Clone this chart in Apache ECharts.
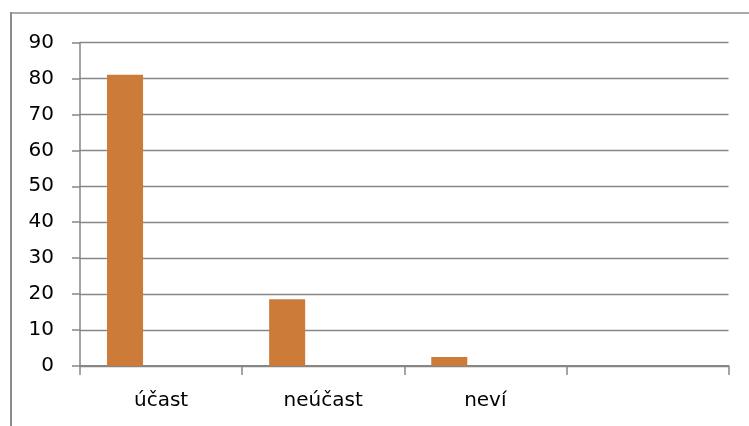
<!DOCTYPE html>
<html>
<head>
<meta charset="utf-8">
<script src="https://cdn.jsdelivr.net/npm/echarts@6/dist/echarts.min.js"></script>
<style>
  html, body { margin: 0; padding: 0; background: #fff; }
  #chart { width: 749px; height: 426px; }
</style>
</head>
<body>
<div id="chart"></div>
<script>
// Categories on the x axis (the last slot is left blank)
const categories = ['účast', 'neúčast', 'neví', ''];
// First series carries the answers; the other two series are empty
const seriesA = [81, 18.6, 2.5, null];
const seriesB = [null, null, null, null];
const seriesC = [null, null, null, null];
const yTicks = { min: 0, max: 90, interval: 10 };

const gridColor = '#868686';
const barColor = '#CD7B38';
const font = 'DejaVu Sans';

const chart = echarts.init(document.getElementById('chart'), null, { renderer: 'canvas' });

chart.setOption({
  animation: false,
  backgroundColor: '#ffffff',
  graphic: [
    {
      type: 'line',
      shape: { x1: 11, y1: 12, x2: 11, y2: 430 },
      style: { stroke: '#8c8c8c', lineWidth: 2 },
      z: 0
    },
    {
      type: 'line',
      shape: { x1: 10, y1: 13, x2: 749, y2: 13 },
      style: { stroke: '#8c8c8c', lineWidth: 1.5 },
      z: 0
    }
  ],
  grid: { left: 80, right: 20.5, top: 42.5, bottom: 60, containLabel: false },
  xAxis: {
    type: 'category',
    data: categories,
    boundaryGap: true,
    axisLine: { show: true, lineStyle: { color: gridColor, width: 2 } },
    axisTick: { show: true, length: 9, alignWithLabel: false, lineStyle: { color: gridColor, width: 1.5 } },
    axisLabel: { color: '#000', fontFamily: font, fontSize: 20, margin: 25 },
    splitLine: { show: false }
  },
  yAxis: {
    type: 'value',
    min: yTicks.min,
    max: yTicks.max,
    interval: yTicks.interval,
    axisLine: { show: true, lineStyle: { color: gridColor, width: 1.5 } },
    axisTick: { show: true, length: 8, inside: false, lineStyle: { color: gridColor, width: 1.5 } },
    axisLabel: { color: '#000', fontFamily: font, fontSize: 20, margin: 26 },
    splitLine: { show: true, lineStyle: { color: gridColor, width: 1.3 } }
  },
  series: [
    { type: 'bar', data: seriesA, itemStyle: { color: barColor }, barGap: '0%', barCategoryGap: '33.33%' },
    { type: 'bar', data: seriesB, itemStyle: { color: '#7f7f7f' }, barGap: '0%', barCategoryGap: '33.33%' },
    { type: 'bar', data: seriesC, itemStyle: { color: '#7f7f7f' }, barGap: '0%', barCategoryGap: '33.33%' }
  ]
});
</script>
</body>
</html>
